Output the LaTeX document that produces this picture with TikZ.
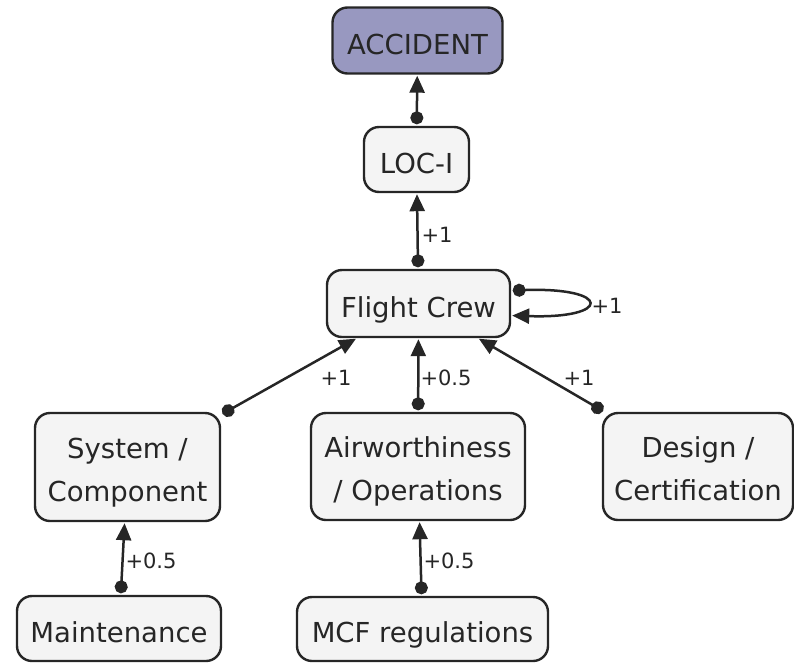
\documentclass[tikz,border=0pt]{standalone}
\usepackage{fontspec}
\setmainfont{DejaVu Sans}
\usetikzlibrary{arrows.meta,calc}

\definecolor{boxfill}{HTML}{F4F4F4}
\definecolor{topfill}{HTML}{9898C0}
\definecolor{ink}{HTML}{262626}

\tikzset{
  box/.style={draw=ink, line width=2.4pt, rounded corners=15pt, fill=boxfill,
    inner sep=0pt, align=center, text=ink,
    font=\fontsize{27.5}{43}\selectfont},
  onebox/.style={box, text height=27pt, text depth=0pt},
  twobox/.style={box, text height=68pt, text depth=0pt},
  topbox/.style={onebox, fill=topfill},
  link/.style={draw=ink, line width=2.5pt,
    {Circle[length=13pt,width=13pt]}-{Triangle[length=17pt,width=15pt]},
    shorten <=1.5pt, shorten >=1pt},
  lbl/.style={inner sep=0pt, text=ink, font=\fontsize{21}{24}\selectfont}
}

\begin{document}
\begin{tikzpicture}[x=1pt,y=-1pt]
  \useasboundingbox (0,0) rectangle (794,662);

  % causal chain nodes
  \node[topbox, minimum width=170pt, minimum height=66pt] (acc) at (417.5,40.5) {ACCIDENT};
  \node[onebox, minimum width=105pt, minimum height=65pt] (loc) at (416.5,159.5) {LOC-I};
  \node[onebox, minimum width=183pt, minimum height=67pt] (fc) at (418.5,303.5) {Flight Crew};
  \node[twobox, minimum width=185pt, minimum height=108pt] (sys) at (127.5,467) {System /\\Component};
  \node[twobox, minimum width=214pt, minimum height=107pt] (aw) at (418,466.5) {Airworthiness\\/ Operations};
  \node[twobox, minimum width=190pt, minimum height=107pt] (des) at (698,466.5) {Design /\\Certification};
  \node[onebox, minimum width=204pt, minimum height=65pt] (mnt) at (119,628.5) {Maintenance};
  \node[onebox, minimum width=251pt, minimum height=64pt] (mcf) at (422.5,629) {MCF regulations};

  % influence links
  \draw[link] (loc) -- (acc);
  \draw[link] (fc) -- (loc);
  \draw[link] ($(fc.east)+(0,-13)$) .. controls (612,287) and (612,319) .. ($(fc.east)+(0,12)$);
  \draw[link] (sys) -- (fc);
  \draw[link] (aw) -- (fc);
  \draw[link] (des) -- (fc);
  \draw[link] (mnt) -- (sys);
  \draw[link] (mcf) -- (aw);

  % link weights
  \node[lbl] (w1) at (437,235) {+1};
  \node[lbl] (w2) at (607,306) {+1};
  \node[lbl] (w3) at (336,378) {+1};
  \node[lbl] (w4) at (446,378) {+0.5};
  \node[lbl] (w5) at (579,378) {+1};
  \node[lbl] (w6) at (151,561) {+0.5};
  \node[lbl] (w7) at (449,561) {+0.5};
\end{tikzpicture}
\end{document}
